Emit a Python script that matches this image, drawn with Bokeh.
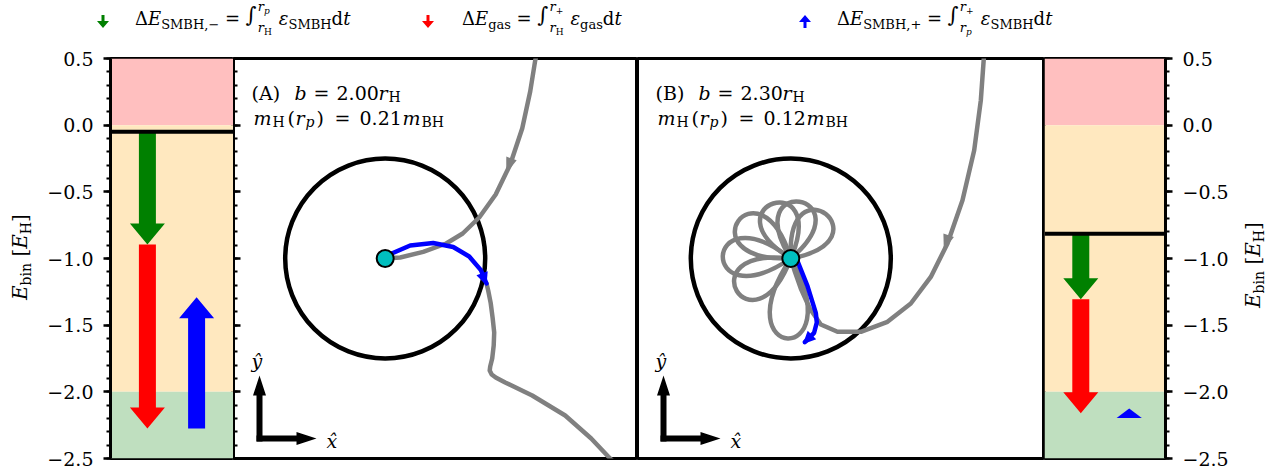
import math
import numpy as np
from bokeh.plotting import figure
from bokeh.models import Range1d, LinearAxis, FixedTicker, Span, Label, Div
from bokeh.layouts import column, row
from bokeh.embed import file_html
from bokeh.resources import INLINE

# ---------------- data ----------------
E_ticks = [-2.5, -2.0, -1.5, -1.0, -0.5, 0.0, 0.5]
E_tick_labels = ["−2.5", "−2.0", "−1.5", "−1.0", "−0.5", "0.0", "0.5"]
E_minor = [round(-2.5 + 0.1 * i, 1) for i in range(31)]

zone_bottom = [0.0, -2.0, -2.5]
zone_top = [0.5, 0.0, -2.0]
zone_colors = ["#FFBFBF", "#FFE8BF", "#BFDFBF"]

# energy budget, panel A (left) and panel B (right), units of E_H
E0_A = -0.05
dE_smbh_minus_A = -0.845
dE_gas_A = -1.38
dE_smbh_plus_A = 0.985

E0_B = -0.815
dE_smbh_minus_B = -0.49
dE_gas_B = -0.855
dE_smbh_plus_B = 0.035

# trajectories, units of r_H (BH at origin)
A_in_x = [1.53, 1.50, 1.45, 1.37, 1.25, 1.105, 0.94, 0.775, 0.61, 0.38, 0.15, 0.0]
A_in_y = [2.10, 1.98, 1.67, 1.30, 0.94, 0.64, 0.41, 0.25, 0.15, 0.066, 0.01, 0.0]
A_in_arrow = [1.28, 1.05, 1.21, 0.85]
A_blue_x = [0.0, 0.065, 0.25, 0.48, 0.68, 0.84, 0.957, 1.013]
A_blue_y = [0.0, 0.05, 0.13, 0.155, 0.115, 0.02, -0.116, -0.25]
A_out_x = [1.013, 1.03, 1.055, 1.075, 1.09, 1.085, 1.07, 1.05, 1.045, 1.065, 1.105, 1.20, 1.47, 1.80, 2.06, 2.23, 2.35]
A_out_y = [-0.25, -0.32, -0.446, -0.6, -0.74, -0.87, -1.0, -1.08, -1.12, -1.16, -1.19, -1.24, -1.37, -1.57, -1.80, -1.98, -2.10]

B_in_x = [1.95, 1.93, 1.90, 1.834, 1.717, 1.567, 1.40, 1.20, 0.967, 0.70, 0.467, 0.30, 0.19, 0.10, 0.04, 0.0]
B_in_y = [2.10, 2.0, 1.58, 1.083, 0.583, 0.15, -0.184, -0.45, -0.633, -0.733, -0.733, -0.66, -0.50, -0.30, -0.13, 0.0]
B_in_arrow = [1.60, 0.30, 1.53, 0.08]
B_petal_tip_x = [0.35, 0.087, -0.175, -0.525, -0.68, -0.54, -0.03]
B_petal_tip_y = [0.444, 0.567, 0.55, 0.375, 0.024, -0.325, -0.80]
B_petal_half_width = 0.19
B_blue_x = [0.0, 0.067, 0.167, 0.25, 0.26, 0.233, 0.14]
B_blue_y = [0.0, -0.027, -0.277, -0.543, -0.64, -0.743, -0.837]

FONT = "DejaVu Serif"
SY_E = 400 / 3.0  # px per E_H


# ---------------- helpers ----------------
def arrow_poly(x0, y0, x1, y1, sx, sy, shaft_w, head_w, head_l):
    X0, Y0, X1, Y1 = x0 * sx, y0 * sy, x1 * sx, y1 * sy
    dx, dy = X1 - X0, Y1 - Y0
    L = math.hypot(dx, dy)
    ux, uy = dx / L, dy / L
    nx, ny = -uy, ux
    if L < head_l:
        hl, hw = 0.45 * head_l, 0.72 * head_w
        bx, by = X1 - ux * hl, Y1 - uy * hl
        pts = [(bx + nx * hw / 2, by + ny * hw / 2), (X1, Y1), (bx - nx * hw / 2, by - ny * hw / 2)]
    else:
        bx, by = X1 - ux * head_l, Y1 - uy * head_l
        s, h = shaft_w / 2, head_w / 2
        pts = [(X0 + nx * s, Y0 + ny * s), (bx + nx * s, by + ny * s), (bx + nx * h, by + ny * h), (X1, Y1),
               (bx - nx * h, by - ny * h), (bx - nx * s, by - ny * s), (X0 - nx * s, Y0 - ny * s)]
    return [q[0] / sx for q in pts], [q[1] / sy for q in pts]


def head_tri(xa, ya, xt, yt, w, l):
    dx, dy = xt - xa, yt - ya
    n = math.hypot(dx, dy)
    ux, uy = dx / n, dy / n
    bx, by = xt - ux * l, yt - uy * l
    return [bx - uy * w / 2, xt, bx + uy * w / 2], [by + ux * w / 2, yt, by - ux * w / 2]


def add_runs(p, items, fx, fy):
    for txt, style, px, py, size in items:
        p.add_layout(Label(x=fx(px), y=fy(py), text=txt, text_font=FONT, text_font_style=style,
                           text_font_size=f"{size}px", text_baseline="alphabetic", text_align="left",
                           text_color="black"))


def style_E_axis(ax, labels=True, inward=False):
    ax.ticker = FixedTicker(ticks=E_ticks, minor_ticks=E_minor)
    ax.axis_line_color = "black"
    ax.axis_line_width = 3
    ax.major_tick_line_width = 2.5
    ax.minor_tick_line_width = 2
    if inward:
        ax.major_tick_in, ax.major_tick_out = 7, 0
        ax.minor_tick_in, ax.minor_tick_out = 4, 0
    else:
        ax.major_tick_in, ax.major_tick_out = 0, 7
        ax.minor_tick_in, ax.minor_tick_out = 0, 4
    if labels:
        ax.major_label_overrides = {t: s for t, s in zip(E_ticks, E_tick_labels)}
        ax.major_label_text_font = FONT
        ax.major_label_text_font_size = "19px"
        ax.major_label_text_color = "black"
        ax.major_label_standoff = 10
    else:
        ax.major_label_overrides = {t: "" for t in E_ticks}
        ax.major_label_text_font_size = "0px"
        ax.major_label_standoff = 0


def energy_panel(side, fw, E0, dEm, dEg, dEp, bl, br):
    p = figure(frame_width=fw, frame_height=400, x_range=Range1d(0, 1), y_range=Range1d(-2.5, 0.5),
               x_axis_location=None, y_axis_location=side, title=None,
               min_border_left=bl, min_border_right=br, min_border_top=10, min_border_bottom=12,
               output_backend="svg", toolbar_location=None)
    p.xgrid.visible = False
    p.ygrid.visible = False
    p.outline_line_color = "black"
    p.outline_line_width = 3
    p.quad(left=0, right=1, bottom=zone_bottom, top=zone_top, fill_color=zone_colors, line_color=None)
    p.add_layout(Span(location=E0, dimension="width", line_color="black", line_width=4))
    E1 = E0 + dEm
    E2 = E1 + dEg
    E3 = E2 + dEp
    for (xc, ya, yb, col) in [(0.30, E0, E1, "green"), (0.30, E1, E2, "red"), (0.70, E2, E3, "blue")]:
        xs, ys = arrow_poly(xc, ya, xc, yb, fw, SY_E, 17, 35, 21)
        p.patch(xs, ys, fill_color=col, line_color=None)
    style_E_axis(p.yaxis[0], labels=True, inward=False)
    return p


def orbit_panel(fw, xr, frame_px0, tag, b_txt, m_txt):
    p = figure(frame_width=fw, frame_height=400, x_range=Range1d(*xr), y_range=Range1d(-2, 2),
               x_axis_location=None, y_axis_location=None, title=None,
               min_border_left=0, min_border_right=0, min_border_top=10, min_border_bottom=12,
               output_backend="svg", toolbar_location=None)
    p.xgrid.visible = False
    p.ygrid.visible = False
    p.outline_line_color = "black"
    p.outline_line_width = 3
    p.circle(x=[0], y=[0], radius=1.0, fill_color=None, line_color="black", line_width=4.5)
    off = frame_px0 - 233
    fx = lambda px: (px + off - frame_px0) / 100.0 + xr[0]
    fy = lambda py: 2 - (py - 58) / 100.0
    # L-shaped coordinate arrows
    ox, oy = fx(259), fy(438)
    for (x0, y0, x1, y1) in [(ox, oy - 0.03, ox, oy + 0.63), (ox - 0.03, oy, ox + 0.57, oy)]:
        xs, ys = arrow_poly(x0, y0, x1, y1, 100, 100, 6, 13, 20)
        p.patch(xs, ys, fill_color="black", line_color=None)
    y1, y2 = 92, 117
    items = [
        ("ŷ", "italic", 251, 360, 19), ("x̂", "italic", 326, 440, 19),
        (tag, "normal", 251, y1, 19), ("b", "italic", 294, y1, 19), ("=", "normal", 313, y1, 19),
        (b_txt, "normal", 336, y1, 19), ("r", "italic", 378, y1, 19), ("H", "normal", 388, y1 + 4, 14),
        ("m", "italic", 253, y2, 19), ("H", "normal", 272, y2 + 4, 14), ("(", "normal", 287, y2, 19),
        ("r", "italic", 295, y2, 19), ("p", "italic", 305, y2 + 4, 14), (")", "normal", 316, y2, 19),
        ("=", "normal", 334, y2, 19), (m_txt, "normal", 359, y2, 19), ("m", "italic", 402, y2, 19),
        ("BH", "normal", 421, y2 + 4, 14),
    ]
    add_runs(p, items, fx, fy)
    return p


# ---------------- panels ----------------
WL, WA, WB, WR = 123, 404, 407, 121
pL = energy_panel("left", WL, E0_A, dE_smbh_minus_A, dE_gas_A, dE_smbh_plus_A, 66, 0)
pR = energy_panel("right", WR, E0_B, dE_smbh_minus_B, dE_gas_B, dE_smbh_plus_B, 0, 70)

pA = orbit_panel(WA, (-1.517, -1.517 + WA / 100.0), 233, "(A)", "2.00", "0.21")
pB = orbit_panel(WB, (-1.533, -1.533 + WB / 100.0), 637, "(B)", "2.30", "0.12")

# inward ticks of the left energy axis, seen on panel A's left edge
pA.extra_y_ranges = {"E": Range1d(-2.5, 0.5)}
axE = LinearAxis(y_range_name="E", axis_label=None)
style_E_axis(axE, labels=False, inward=True)
pA.add_layout(axE, "left")

GRAY = "#808080"
LW = 4.5
# panel A trajectory
pA.line(A_in_x, A_in_y, line_color=GRAY, line_width=LW, line_join="round", line_cap="round")
pA.line(A_out_x, A_out_y, line_color=GRAY, line_width=LW, line_join="round", line_cap="round")
xs, ys = head_tri(*A_in_arrow, 0.11, 0.16)
pA.patch(xs, ys, fill_color=GRAY, line_color=None)
pA.line(A_blue_x, A_blue_y, line_color="blue", line_width=LW, line_join="round", line_cap="round")
xs, ys = head_tri(A_blue_x[-2], A_blue_y[-2], A_blue_x[-1], A_blue_y[-1] - 0.02, 0.12, 0.13)
pA.patch(xs, ys, fill_color="blue", line_color=None)
pA.scatter(x=[0], y=[0], size=17, fill_color="#00BFBF", line_color="black", line_width=2)

# panel B trajectory
pB.line(B_in_x, B_in_y, line_color=GRAY, line_width=LW, line_join="round", line_cap="round")
xs, ys = head_tri(*B_in_arrow, 0.11, 0.16)
pB.patch(xs, ys, fill_color=GRAY, line_color=None)
tx, ty = np.array(B_petal_tip_x), np.array(B_petal_tip_y)
Lp = np.hypot(tx, ty)
ux, uy = tx / Lp, ty / Lp
wq = B_petal_half_width / 0.289
pB.bezier(x0=np.zeros_like(tx), y0=np.zeros_like(ty), x1=np.zeros_like(tx), y1=np.zeros_like(ty),
          cx0=4 / 3 * tx - uy * wq, cy0=4 / 3 * ty + ux * wq,
          cx1=4 / 3 * tx + uy * wq, cy1=4 / 3 * ty - ux * wq,
          line_color=GRAY, line_width=LW)
pB.line(B_blue_x, B_blue_y, line_color="blue", line_width=LW, line_join="round", line_cap="round")
xs, ys = head_tri(B_blue_x[-2], B_blue_y[-2], B_blue_x[-1] - 0.02, B_blue_y[-1] - 0.02, 0.12, 0.13)
pB.patch(xs, ys, fill_color="blue", line_color=None)
pB.scatter(x=[0], y=[0], size=17, fill_color="#00BFBF", line_color="black", line_width=2)


# ---------------- legend and axis labels (HTML) ----------------
def S(s, size=13, dy=4):
    return f'<span style="font-size:{size}px;position:relative;top:{dy}px;">{s}</span>'


def lim(sub):
    return f'<i>r</i><span style="font-size:9px;position:relative;top:3px;">{sub}</span>'


def integral(hi, lo):
    return ('<span style="display:inline-block;position:relative;width:33px;height:18px;vertical-align:-3px;">'
            '<span style="position:absolute;left:0px;top:-5px;font-size:21px;line-height:21px;">∫</span>'
            f'<span style="position:absolute;left:12px;top:-10px;font-size:13px;line-height:13px;white-space:nowrap;">{hi}</span>'
            f'<span style="position:absolute;left:12px;top:11px;font-size:13px;line-height:13px;white-space:nowrap;">{lo}</span></span>')


rH, rp, rplus = lim("H"), lim("<i>p</i>"), lim("+")
item1 = f'Δ<i>E</i>{S("SMBH,−")} = {integral(rp, rH)}<i>ε</i>{S("SMBH")}d<i>t</i>'
item2 = f'Δ<i>E</i>{S("gas")} = {integral(rplus, rH)}<i>ε</i>{S("gas")}d<i>t</i>'
item3 = f'Δ<i>E</i>{S("SMBH,+")} = {integral(rplus, rp)}<i>ε</i>{S("SMBH")}d<i>t</i>'

down = '<polygon points="4.5,0 7.5,0 7.5,6 12,6 6,13 0,6 4.5,6" fill="{c}"/>'
up = '<polygon points="6,0 12,7 7.5,7 7.5,13 4.5,13 4.5,7 0,7" fill="{c}"/>'


def svg(left, poly, c):
    return (f'<svg width="12" height="13" style="position:absolute;left:{left}px;top:15px;">'
            + poly.format(c=c) + '</svg>')


def txt(left, html):
    return f'<div style="position:absolute;left:{left}px;top:9px;white-space:nowrap;line-height:20px;">{html}</div>'


legend_html = (f'<div style="position:relative;width:1280px;height:48px;font-family:\'{FONT}\';'
               f'font-size:18px;color:black;">'
               + svg(97, down, "green") + txt(135, item1)
               + svg(422, down, "red") + txt(462, item2)
               + svg(799, up, "blue") + txt(837, item3)
               + '</div>')
legend = Div(text=legend_html, width=1280, height=48, margin=0)

ylab = f'<i>E</i>{S("bin", 14, 4)} [<i>E</i>{S("H", 14, 4)}]'


def side_label(width, left, top):
    html = (f'<div style="position:relative;width:{width}px;height:422px;font-family:\'{FONT}\';font-size:20px;color:black;">'
            f'<div style="position:absolute;left:{left}px;top:{top}px;transform:rotate(-90deg);'
            f'transform-origin:left top;white-space:nowrap;line-height:20px;">{ylab}</div></div>')
    return Div(text=html, width=width, height=422, margin=0)


labL = side_label(44, 10, 252)
labR = side_label(45, 8, 260)

layout = column(legend, row(labL, pL, pA, pB, pR, labR))
with open("out.html", "w") as f:
    f.write(file_html(layout, INLINE))
